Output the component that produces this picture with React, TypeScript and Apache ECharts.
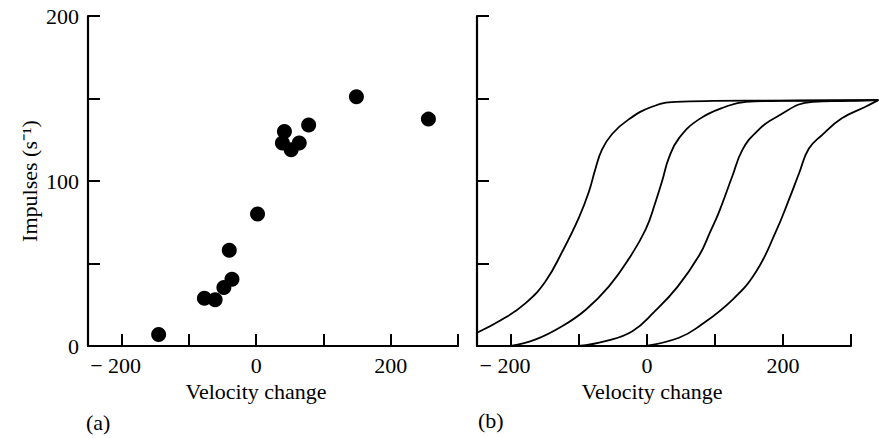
import React, { useEffect, useRef } from 'react';
import * as echarts from 'echarts';

// Panel (a): measured responses
const scatterX = [-145, -77, -61, -48, -36, -40, 2, 42, 39, 52, 64, 78, 149, 256];
const scatterY = [7, 29, 28, 35.5, 40.5, 58, 80, 130, 123, 119, 123, 134, 151, 137.5];

// Panel (b): four sigmoid response curves
const curve1X = [-250, -213, -178, -149, -124, -99, -84, -75, -65, -50, -25, 9, 44, 100, 344];
const curve1Y = [8, 16, 26, 39, 57, 78, 94, 107, 119, 128.5, 137.5, 145, 148, 148.5, 149];
const curve2X = [-200, -163, -124, -89, -55, -25, 0, 14, 24, 34, 49, 79, 118, 148, 200, 344];
const curve2Y = [0, 4, 12, 22, 36, 53, 71, 87, 100, 114, 126, 137.5, 145, 148, 148.5, 149];
const curve3X = [-100, -60, -20, 13, 47, 79, 95, 108, 128, 143, 163, 192, 247, 300, 344];
const curve3Y = [0, 3, 9, 21, 36, 55, 69, 81, 103, 119, 129.5, 138.5, 148, 148.5, 149];
const curve4X = [0, 49, 79, 128, 163, 192, 212, 227, 241, 261, 290, 325, 344];
const curve4Y = [0, 5, 12, 28, 45, 69, 89, 105, 119.5, 128, 138, 145, 149];

const xTickValues = [-200, -100, 0, 100, 200, 300];
const xLabelValues = [-200, 0, 200];
const yLabelValues = [0, 100, 200];

const FONT = 'Liberation Serif';

export default function App() {
  const ref = useRef<HTMLDivElement>(null);
  useEffect(() => {
    if (!ref.current) return;
    const chart = echarts.init(ref.current, undefined, { renderer: 'svg' });
    const axisLine = { show: true, onZero: false, lineStyle: { color: '#000', width: 2.2 } };
    const axisTick = { show: true, inside: true, length: 12, lineStyle: { color: '#000', width: 2 } };
    const xLabel = {
      customValues: xLabelValues,
      margin: 8,
      fontFamily: FONT,
      fontSize: 22,
      color: '#000',
      formatter: (v: number) => (v < 0 ? '{n|\u2212 ' + Math.abs(v) + '}{p|}' : String(v)),
      rich: {
        n: { fontFamily: FONT, fontSize: 22, color: '#000' },
        p: { width: 12 },
      },
    };
    const makeX = (idx: number, pad: number) => ({
      type: 'value',
      gridIndex: idx,
      min: -250,
      max: 300,
      axisLine,
      axisTick: { ...axisTick, customValues: xTickValues },
      axisLabel: xLabel,
      splitLine: { show: false },
      name: 'Velocity change',
      nameLocation: 'middle',
      nameGap: 27,
      nameTextStyle: { fontFamily: FONT, fontSize: 22, color: '#000', padding: [0, pad, 0, 0] },
    });
    const makeY = (idx: number, labels: boolean) => ({
      type: 'value',
      gridIndex: idx,
      min: 0,
      max: 200,
      interval: 50,
      axisLine,
      axisTick,
      axisLabel: {
        show: labels,
        customValues: yLabelValues,
        margin: 9,
        fontFamily: FONT,
        fontSize: 22,
        color: '#000',
      },
      splitLine: { show: false },
      ...(labels
        ? {
            name: 'Impulses (s\u207B\u00B9)',
            nameLocation: 'middle',
            nameGap: 48,
            nameTextStyle: { fontFamily: FONT, fontSize: 22, color: '#000' },
          }
        : {}),
    });
    const curves = [
      [curve1X, curve1Y],
      [curve2X, curve2Y],
      [curve3X, curve3Y],
      [curve4X, curve4Y],
    ];
    chart.setOption({
      animation: false,
      backgroundColor: '#fff',
      grid: [
        { left: 88, top: 16, width: 370, height: 330 },
        { left: 477, top: 16, width: 374, height: 330 },
        // same scale as grid 1, extended to the right so curves run past 300
        { left: 477, top: 16, width: 404, height: 330 },
      ],
      xAxis: [
        makeX(0, 34),
        makeX(1, 24),
        { type: 'value', gridIndex: 2, min: -250, max: 345, show: false },
      ],
      yAxis: [
        makeY(0, true),
        makeY(1, false),
        { type: 'value', gridIndex: 2, min: 0, max: 200, show: false },
      ],
      graphic: [
        { type: 'text', left: 86, top: 411, style: { text: '(a)', fontFamily: FONT, fontSize: 22, fill: '#000' } },
        { type: 'text', left: 478, top: 409, style: { text: '(b)', fontFamily: FONT, fontSize: 22, fill: '#000' } },
      ],
      series: [
        {
          type: 'scatter',
          xAxisIndex: 0,
          yAxisIndex: 0,
          data: scatterX.map((x, i) => [x, scatterY[i]]),
          symbolSize: 15,
          itemStyle: { color: '#000', opacity: 1 },
        },
        ...curves.map(([xs, ys]) => ({
          type: 'line',
          xAxisIndex: 2,
          yAxisIndex: 2,
          data: xs.map((x, i) => [x, ys[i]]),
          smooth: 0.45,
          showSymbol: false,
          clip: false,
          lineStyle: { color: '#000', width: 1.8 },
        })),
      ],
    });
    return () => chart.dispose();
  }, []);
  return (
    <div
      ref={ref}
      style={{ position: 'fixed', left: 0, top: 0, width: 879, height: 438, background: '#fff' }}
    />
  );
}
